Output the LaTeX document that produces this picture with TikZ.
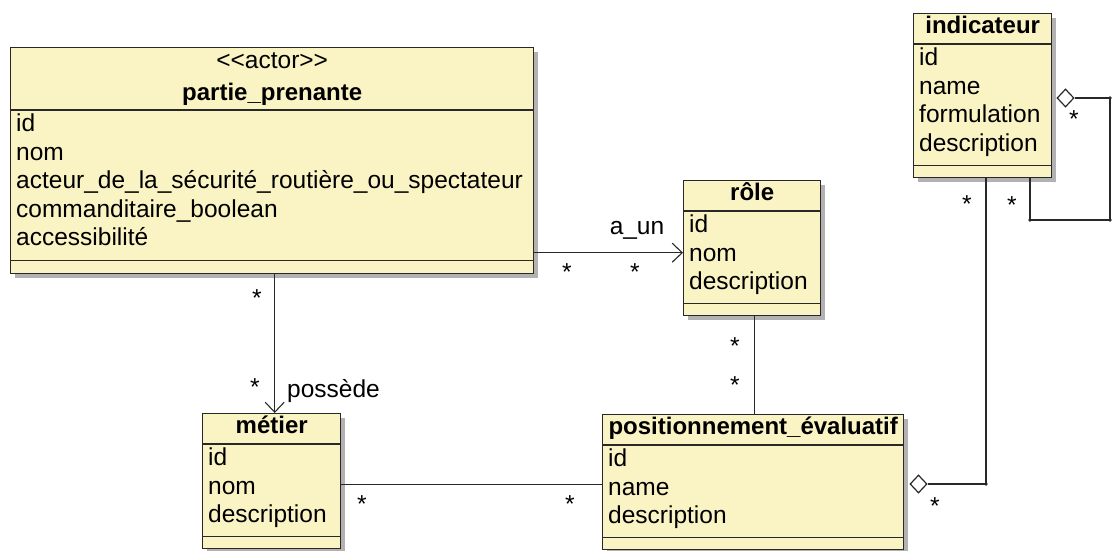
\documentclass[tikz,border=0pt]{standalone}
\usepackage{fontspec}
\setmainfont{Liberation Sans}
\usetikzlibrary{arrows.meta,shapes.geometric,shadows}
\definecolor{clsfill}{RGB}{250,243,196}
\definecolor{clsline}{RGB}{40,40,40}

\begin{document}
\begin{tikzpicture}[x=1pt,y=-1pt,
                    >={Straight Barb[length=10pt,width=19pt,line width=1.1pt]}]
  \tikzstyle{cls}=[draw=clsline,fill=clsfill,line width=1.4pt,inner sep=0pt,anchor=north west,
                   drop shadow={shadow xshift=4pt,shadow yshift=-4pt,fill=black!60}]
  \tikzstyle{ttl}=[anchor=base,inner sep=0pt,font=\fontsize{24}{28}\selectfont\bfseries]
  \tikzstyle{att}=[anchor=base west,inner sep=0pt,font=\fontsize{24.5}{28}\selectfont]
  \tikzstyle{mult}=[anchor=base,inner sep=0pt,font=\fontsize{24.5}{28}\selectfont]
  \tikzstyle{sep}=[draw=clsline,line width=1.3pt]
  \tikzstyle{link}=[draw=clsline,line width=1.3pt]
  \tikzstyle{agg}=[diamond,draw=clsline,fill=white,line width=1.2pt,
                   minimum width=17pt,minimum height=18pt,inner sep=0pt]

  \useasboundingbox (0,0) rectangle (1112,550);

  % classes
  \node[cls,minimum width=523pt,minimum height=226pt] (pp) at (10,47)  {};
  \node[cls,minimum width=137pt,minimum height=135pt] (ro) at (683,180) {};
  \node[cls,minimum width=138pt,minimum height=164pt] (in) at (913,13)  {};
  \node[cls,minimum width=138pt,minimum height=135pt] (mt) at (202,413) {};
  \node[cls,minimum width=301pt,minimum height=135pt] (pe) at (602,414) {};

  \node[mult] (pp-s) at ([yshift=-21pt]pp.north) {<\kern0pt<actor>\kern0pt>};
  \node[ttl]  (pp-t) at ([yshift=-53pt]pp.north) {partie\_prenante};
  \draw[sep] ([yshift=-63pt]pp.north west) -- ([yshift=-63pt]pp.north east);
  \draw[sep] ([yshift=14pt]pp.south west) -- ([yshift=14pt]pp.south east);
  \node[att] (pp-a1) at ([xshift=6pt,yshift=-84.5pt]pp.north west) {id};
  \node[att] (pp-a2) at ([yshift=-28.5pt]pp-a1.base west) {nom};
  \node[att] (pp-a3) at ([yshift=-28.5pt]pp-a2.base west) {acteur\_de\_la\_sécurité\_routière\_ou\_spectateur};
  \node[att] (pp-a4) at ([yshift=-28.5pt]pp-a3.base west) {commanditaire\_boolean};
  \node[att] (pp-a5) at ([yshift=-28.5pt]pp-a4.base west) {accessibilité};

  \node[ttl] (ro-t) at ([yshift=-20pt]ro.north) {rôle};
  \draw[sep] ([yshift=-31pt]ro.north west) -- ([yshift=-31pt]ro.north east);
  \draw[sep] ([yshift=13pt]ro.south west) -- ([yshift=13pt]ro.south east);
  \node[att] (ro-a1) at ([xshift=6pt,yshift=-52.5pt]ro.north west) {id};
  \node[att] (ro-a2) at ([yshift=-28.5pt]ro-a1.base west) {nom};
  \node[att] (ro-a3) at ([yshift=-28.5pt]ro-a2.base west) {description};

  \node[ttl] (in-t) at ([yshift=-20pt]in.north) {indicateur};
  \draw[sep] ([yshift=-31pt]in.north west) -- ([yshift=-31pt]in.north east);
  \draw[sep] ([yshift=13pt]in.south west) -- ([yshift=13pt]in.south east);
  \node[att] (in-a1) at ([xshift=6pt,yshift=-52.5pt]in.north west) {id};
  \node[att] (in-a2) at ([yshift=-28.5pt]in-a1.base west) {name};
  \node[att] (in-a3) at ([yshift=-28.5pt]in-a2.base west) {formulation};
  \node[att] (in-a4) at ([yshift=-28.5pt]in-a3.base west) {description};

  \node[ttl] (mt-t) at ([yshift=-20pt]mt.north) {métier};
  \draw[sep] ([yshift=-31pt]mt.north west) -- ([yshift=-31pt]mt.north east);
  \draw[sep] ([yshift=13pt]mt.south west) -- ([yshift=13pt]mt.south east);
  \node[att] (mt-a1) at ([xshift=6pt,yshift=-52.5pt]mt.north west) {id};
  \node[att] (mt-a2) at ([yshift=-28.5pt]mt-a1.base west) {nom};
  \node[att] (mt-a3) at ([yshift=-28.5pt]mt-a2.base west) {description};

  \node[ttl] (pe-t) at ([yshift=-20pt]pe.north) {positionnement\_évaluatif};
  \draw[sep] ([yshift=-31pt]pe.north west) -- ([yshift=-31pt]pe.north east);
  \draw[sep] ([yshift=13pt]pe.south west) -- ([yshift=13pt]pe.south east);
  \node[att] (pe-a1) at ([xshift=6pt,yshift=-52.5pt]pe.north west) {id};
  \node[att] (pe-a2) at ([yshift=-28.5pt]pe-a1.base west) {name};
  \node[att] (pe-a3) at ([yshift=-28.5pt]pe-a2.base west) {description};

  % associations
  \coordinate (a1) at ([yshift=-92pt]pp.east);
  \draw[link,->] (a1) -- (a1 -| ro.west);
  \node[mult] (l1) at (637,234) {a\_un};
  \node[mult] (s1) at (567,280) {*};
  \node[mult] (s2) at (635,280) {*};

  \draw[link,->] ([xshift=3pt]mt.north |- pp.south) -- ([xshift=3pt]mt.north);
  \node[att]  (l2) at (287,397) {possède};
  \node[mult] (s3) at (257,306) {*};
  \node[mult] (s4) at (255,395) {*};

  \draw[link] ([xshift=2.5pt]ro.south) -- ([xshift=2.5pt]ro.south |- pe.north);
  \node[mult] (s5) at (735,354) {*};
  \node[mult] (s6) at (735,393) {*};

  \draw[link] ([yshift=-3pt]mt.east) -- ([yshift=-3pt]mt.east -| pe.west);
  \node[mult] (s7) at (362,512) {*};
  \node[mult] (s8) at (570,512) {*};

  \node[agg] (d1) at (918.5,484) {};
  \coordinate (c1) at (986,484);
  \draw[link] (d1.east) -- (c1) -- (c1 |- in.south);
  \fill[clsline] (c1) circle (1.8pt);
  \node[mult] (s9)  at (935,514) {*};
  \node[mult] (s10) at (967,212) {*};

  \node[agg] (d2) at (1065.5,98) {};
  \coordinate (c2) at (1110,98);
  \coordinate (c3) at (1110,220);
  \coordinate (c4) at (1030,220);
  \draw[link] (d2.east) -- (c2) -- (c3) -- (c4) -- (c4 |- in.south);
  \fill[clsline] (c2) circle (1.8pt) (c3) circle (1.8pt) (c4) circle (1.8pt);
  \node[mult] (s11) at (1074,127) {*};
  \node[mult] (s12) at (1012,213) {*};
\end{tikzpicture}
\end{document}
